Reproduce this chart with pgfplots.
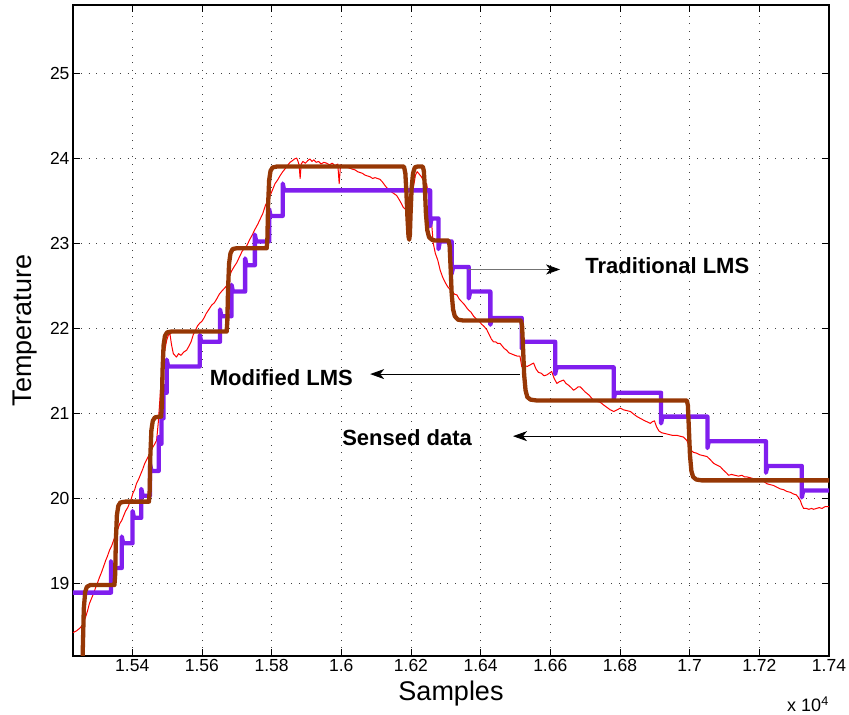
\documentclass[border=0pt]{standalone}
\usepackage{pgfplots}
\pgfplotsset{compat=1.18}
\usepackage{fontspec}
\setmainfont{Liberation Sans}
\usetikzlibrary{arrows.meta}

\definecolor{modlms}{RGB}{128,30,238}
\definecolor{tradlms}{RGB}{150,55,5}

\begin{document}
\begin{tikzpicture}[x=1pt,y=1pt]
\useasboundingbox (-73,-59) rectangle (776,656);
\begin{axis}[
    scale only axis,
    width=756pt, height=651pt,
    xmin=15230, xmax=17400,
    ymin=18.145, ymax=25.8,
    xtick={15400,15600,15800,16000,16200,16400,16600,16800,17000,17200,17400},
    xticklabels={1.54,1.56,1.58,1.6,1.62,1.64,1.66,1.68,1.7,1.72,1.74},
    ytick={19,20,21,22,23,24,25},
    scaled ticks=false,
    /pgf/number format/assume math mode=true,
    ticklabel style={font=\fontsize{17.5}{20}\selectfont},
    grid=major,
    major grid style={black!75, line width=0.7pt, dash pattern=on 0.8pt off 7pt},
    tick align=inside,
    major tick length=7pt,
    tick style={black, line width=0.8pt},
    axis line style={line width=1.3pt},
    xlabel={Samples},
    ylabel={Temperature},
    label style={font=\fontsize{27}{30}\selectfont},
    xlabel style={at={(axis description cs:0.5,-0.057)}, anchor=center},
    ylabel style={at={(axis description cs:-0.064,0.5)}, anchor=center},
    clip=true,
]

% Sensed data
\addplot[red, line width=1pt, line join=round] coordinates {
(15230,18.42) (15240,18.44) (15249,18.47) (15258,18.51) (15266,18.60) (15272,18.68)
(15277,18.76) (15283,18.82) (15289,18.88) (15295,18.95) (15300,19.00) (15306,19.07)
(15312,19.13) (15318,19.20) (15324,19.27) (15329,19.32) (15335,19.39) (15341,19.44)
(15347,19.51) (15353,19.58) (15359,19.64) (15364,19.70) (15370,19.74) (15376,19.80)
(15381,19.85) (15387,19.89) (15392,19.94) (15397,19.99) (15402,20.06) (15407,20.10)
(15412,20.17) (15418,20.22) (15424,20.28) (15430,20.34) (15436,20.41) (15441,20.45)
(15447,20.50) (15453,20.55) (15459,20.60) (15465,20.64) (15470,20.68) (15475,20.90)
(15480,21.20) (15484,21.45) (15489,21.62) (15494,21.75) (15499,21.86) (15504,21.92)
(15508,21.94) (15513,21.80) (15518,21.70) (15527,21.66) (15533,21.70) (15540,21.68)
(15548,21.72) (15556,21.74) (15563,21.79) (15569,21.84) (15575,21.92) (15582,21.98)
(15588,22.03) (15594,22.06) (15600,22.08) (15606,22.12) (15612,22.17) (15620,22.22)
(15628,22.27) (15636,22.30) (15642,22.34) (15650,22.40) (15658,22.44) (15665,22.47)
(15671,22.50) (15678,22.60) (15685,22.67) (15692,22.72) (15700,22.77) (15708,22.84)
(15715,22.90) (15722,22.94) (15729,22.97) (15737,23.04) (15745,23.10) (15752,23.16)
(15760,23.22) (15767,23.28) (15775,23.35) (15782,23.44) (15789,23.50) (15795,23.55)
(15802,23.62) (15810,23.70) (15817,23.74) (15824,23.79) (15832,23.84) (15840,23.88)
(15847,23.92) (15853,23.95) (15860,23.97) (15866,23.99) (15872,24.00) (15876,23.96)
(15879,23.92) (15882,23.76) (15885,23.93) (15890,23.96) (15897,23.94) (15904,23.97)
(15910,23.99) (15916,23.96) (15921,23.98) (15928,23.95) (15935,23.96) (15942,23.93)
(15950,23.95) (15958,23.94) (15966,23.92) (15974,23.94) (15982,23.91) (15990,23.93)
(15994,23.70) (15998,23.92) (16005,23.90) (16012,23.91) (16018,23.89) (16025,23.88)
(16032,23.87) (16040,23.86) (16047,23.84) (16054,23.83) (16061,23.82) (16068,23.80)
(16075,23.79) (16083,23.78) (16090,23.76) (16097,23.77) (16104,23.76) (16111,23.75)
(16118,23.72) (16125,23.68) (16131,23.65) (16138,23.62) (16145,23.60) (16152,23.58)
(16159,23.56) (16165,23.52) (16172,23.47) (16178,23.42) (16184,23.40) (16190,23.44)
(16197,23.48) (16203,23.56) (16208,23.68) (16213,23.80) (16218,23.84) (16224,23.81)
(16230,23.78) (16238,23.72) (16245,23.70) (16252,23.52) (16258,23.30) (16264,23.00)
(16270,22.88) (16277,22.80) (16284,22.68) (16291,22.60) (16298,22.54) (16305,22.49)
(16311,22.46) (16317,22.43) (16325,22.40) (16332,22.39) (16339,22.34) (16346,22.31)
(16353,22.28) (16360,22.24) (16366,22.21) (16372,22.19) (16380,22.14) (16387,22.11)
(16394,22.09) (16402,22.05) (16410,22.02) (16418,21.98) (16425,21.92) (16431,21.87)
(16437,21.84) (16443,21.84) (16449,21.82) (16456,21.82) (16462,21.79) (16468,21.76)
(16475,21.74) (16481,21.71) (16487,21.70) (16493,21.69) (16499,21.68) (16506,21.67)
(16513,21.67) (16518,21.55) (16526,21.56) (16534,21.55) (16543,21.57) (16552,21.59)
(16559,21.52) (16566,21.48) (16574,21.47) (16582,21.44) (16590,21.45) (16597,21.47)
(16604,21.49) (16611,21.41) (16619,21.35) (16626,21.37) (16632,21.38) (16638,21.39)
(16645,21.35) (16652,21.33) (16660,21.30) (16667,21.27) (16674,21.29) (16680,21.31)
(16686,21.31) (16693,21.28) (16700,21.25) (16706,21.23) (16712,21.21) (16718,21.18)
(16724,21.15) (16733,21.14) (16743,21.13) (16752,21.10) (16762,21.07) (16772,21.04)
(16782,21.02) (16792,21.04) (16801,21.06) (16810,21.04) (16820,21.03) (16830,21.02)
(16839,20.99) (16849,20.96) (16858,20.94) (16867,20.92) (16877,20.90) (16887,20.88)
(16893,20.90) (16899,20.91) (16905,20.84) (16912,20.79) (16920,20.77) (16930,20.76)
(16940,20.75) (16950,20.74) (16963,20.74) (16972,20.73) (16982,20.72) (16992,20.68)
(17002,20.57) (17011,20.54) (17020,20.53) (17030,20.51) (17040,20.50) (17050,20.49)
(17060,20.45) (17069,20.41) (17078,20.39) (17088,20.37) (17097,20.33) (17105,20.30)
(17112,20.27) (17120,20.28) (17130,20.27) (17140,20.26) (17150,20.27) (17158,20.25)
(17165,20.25) (17175,20.24) (17183,20.23) (17193,20.23) (17203,20.22) (17212,20.20)
(17222,20.17) (17231,20.16) (17241,20.15) (17250,20.13) (17260,20.11) (17270,20.10)
(17279,20.08) (17289,20.07) (17298,20.05) (17306,20.04) (17312,20.01) (17318,19.97)
(17322,19.92) (17327,19.88) (17335,19.88) (17342,19.87) (17350,19.88) (17356,19.87)
(17364,19.88) (17372,19.89) (17380,19.88) (17388,19.90) (17400,19.90)
};

% Modified LMS
\addplot[modlms, line width=4.3pt, line join=round, line cap=round] coordinates {
(15230,18.89) (15339,18.89) (15339,19.26) (15343,19.18) (15370,19.18) (15370,19.55)
(15374,19.47) (15401,19.47) (15401,19.85) (15405,19.77) (15426,19.77) (15426,20.11)
(15430,20.03) (15451,20.03) (15451,20.40) (15455,20.32) (15476,20.32) (15476,20.72)
(15479,20.64) (15484,20.64) (15484,21.02) (15486,20.94) (15490,20.94) (15490,21.32)
(15492,21.24) (15499,21.24) (15499,21.63) (15503,21.55) (15594,21.55) (15594,21.92)
(15598,21.84) (15652,21.84) (15652,22.22) (15656,22.14) (15685,22.14) (15685,22.51)
(15689,22.43) (15724,22.43) (15724,22.82) (15728,22.74) (15752,22.74) (15752,23.10)
(15756,23.02) (15793,23.02) (15793,23.40) (15797,23.32) (15832,23.32) (15832,23.70)
(15836,23.62) (16255,23.62) (16255,23.20) (16259,23.29) (16279,23.29) (16279,22.93)
(16283,23.02) (16317,23.02) (16317,22.64) (16321,22.72) (16366,22.72) (16366,22.35)
(16370,22.43) (16428,22.43) (16428,22.04) (16432,22.12) (16518,22.12) (16518,21.76)
(16522,21.84) (16614,21.84) (16614,21.46) (16618,21.54) (16782,21.54) (16782,21.16)
(16786,21.24) (16918,21.24) (16918,20.88) (16922,20.96) (17051,20.96) (17051,20.59)
(17055,20.67) (17219,20.67) (17219,20.30) (17223,20.38) (17322,20.38) (17322,20.01)
(17326,20.09) (17400,20.09)
};

% Traditional LMS
\addplot[tradlms, line width=4.3pt, line join=round, line cap=round] coordinates {
(15256,17.00) (15258,18.20) (15261,18.70) (15265,18.90) (15270,18.96) (15280,18.98)
(15349,18.98) (15351,19.10) (15353,19.50) (15356,19.80) (15360,19.91) (15366,19.95)
(15380,19.96) (15448,19.96) (15450,20.08) (15452,20.50) (15455,20.80) (15459,20.91)
(15465,20.95) (15478,20.96) (15483,20.96) (15485,21.10) (15487,21.50) (15490,21.80)
(15494,21.91) (15500,21.95) (15512,21.96) (15671,21.96) (15673,22.08) (15675,22.45)
(15678,22.76) (15682,22.88) (15688,22.93) (15700,22.94) (15786,22.94) (15788,23.06)
(15790,23.45) (15793,23.74) (15797,23.85) (15803,23.89) (15815,23.90) (16180,23.90)
(16184,23.82) (16187,23.60) (16190,23.30) (16193,23.08) (16195,23.04) (16197,23.10)
(16199,23.35) (16202,23.65) (16206,23.82) (16211,23.89) (16218,23.90) (16234,23.90)
(16237,23.85) (16240,23.65) (16243,23.35) (16247,23.15) (16252,23.07) (16260,23.04)
(16270,23.03) (16308,23.03) (16311,22.97) (16314,22.70) (16317,22.40) (16321,22.22)
(16326,22.14) (16335,22.10) (16350,22.09) (16516,22.09) (16519,22.03) (16522,21.75)
(16525,21.45) (16529,21.27) (16534,21.19) (16543,21.16) (16560,21.15) (16992,21.15)
(16995,21.09) (16998,20.80) (17001,20.50) (17005,20.32) (17010,20.25) (17019,20.22)
(17035,20.21) (17400,20.21)
};

% annotations
\draw[black!55, line width=0.9pt] (axis cs:16364,22.69) -- (axis cs:16600,22.69);
\draw[black, line width=0.9pt, -{Stealth[length=14pt,width=10pt,inset=4pt]}] (axis cs:16590,22.69) -- (axis cs:16628,22.69);
\node[font=\fontsize{22}{26}\selectfont\bfseries] at (axis cs:16936,22.73) {Traditional LMS};

\draw[black, line width=0.9pt, -{Stealth[length=14pt,width=10pt,inset=4pt]}] (axis cs:16513,21.46) -- (axis cs:16083,21.46);
\node[font=\fontsize{22}{26}\selectfont\bfseries] at (axis cs:15828,21.42) {Modified LMS};

\draw[black, line width=0.9pt, -{Stealth[length=14pt,width=10pt,inset=4pt]}] (axis cs:16924,20.73) -- (axis cs:16493,20.73);
\node[font=\fontsize{22}{26}\selectfont\bfseries] at (axis cs:16189,20.71) {Sensed data};

\end{axis}
\node[font=\fontsize{18}{20}\selectfont, anchor=base] at (735,-56) {x 10\textsuperscript{4}};
\end{tikzpicture}
\end{document}
